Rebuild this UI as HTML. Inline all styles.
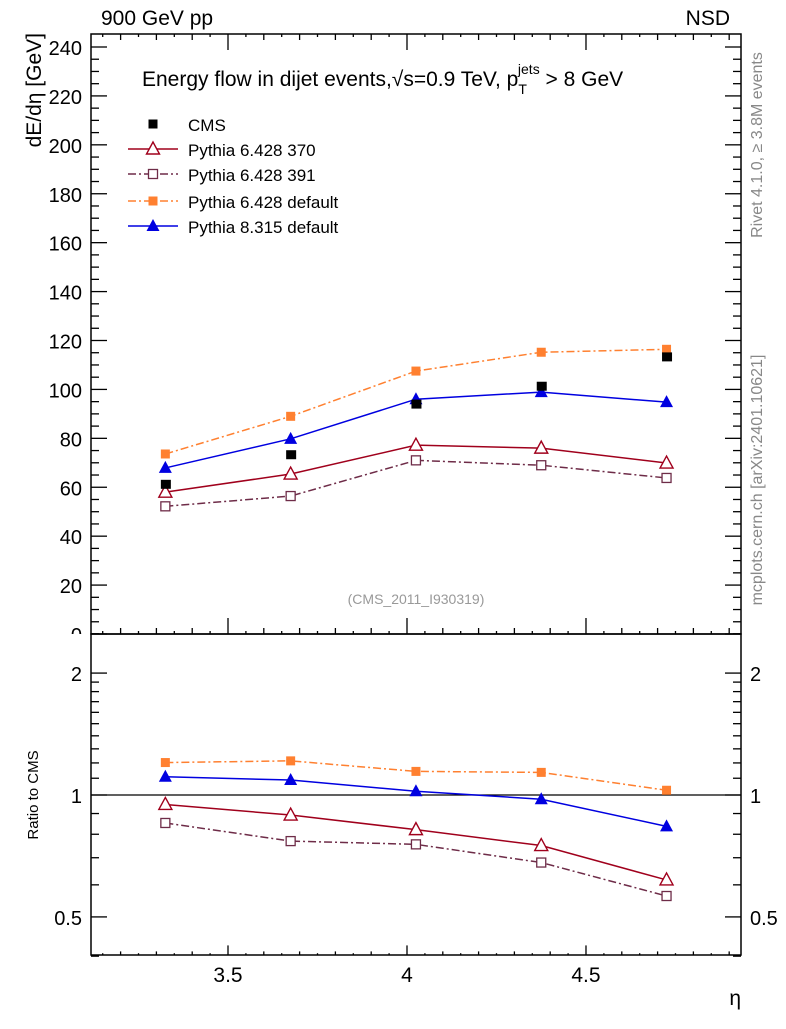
<!DOCTYPE html>
<html><head><meta charset="utf-8"><style>
body{margin:0;background:#fff;}
svg text{font-family:"Liberation Sans",sans-serif;}
</style></head><body>
<svg id="c" width="786" height="1024" xmlns="http://www.w3.org/2000/svg">
<text x="101" y="25" font-size="21">900 GeV pp</text>
<text x="730" y="25" font-size="21" text-anchor="end">NSD</text>
<text x="142" y="86" font-size="21">Energy flow in dijet events,√s=0.9 TeV, p<tspan font-size="14" dy="8">T</tspan><tspan font-size="14" dx="-9" dy="-20">jets</tspan><tspan dy="12"> &gt; 8 GeV</tspan></text>
<text transform="translate(41,33) rotate(-90)" font-size="21" text-anchor="end">dE/dη [GeV]</text>
<text transform="translate(38,795) rotate(-90)" font-size="15" text-anchor="middle">Ratio to CMS</text>
<text x="741" y="1005" font-size="21" text-anchor="end">η</text>
<text transform="translate(762,145) rotate(-90)" font-size="16" fill="#888" text-anchor="middle">Rivet 4.1.0, ≥ 3.8M events</text>
<text transform="translate(762,480) rotate(-90)" font-size="16" fill="#888" text-anchor="middle">mcplots.cern.ch [arXiv:2401.10621]</text>
<text x="416" y="604" font-size="14" fill="#999" text-anchor="middle">(CMS_2011_I930319)</text>
<defs><clipPath id="cl"><rect x="0" y="0" width="786" height="634"/></clipPath></defs>
<g id="g"></g>
</svg>
<script>
const etaVals=[3.325,3.675,4.025,4.375,4.725];
const cms=[61.2,73.3,94,101.3,113.3];
const p370=[58,65.4,77.2,76,69.9];
const p391=[52.2,56.4,71,69,63.8];
const p6def=[73.6,89,107.5,115.2,116.4];
const p8def=[67.9,79.8,96,98.9,94.8];
const yTicks=[0,20,40,60,80,100,120,140,160,180,200,220,240];
const xTicks=[3.5,4,4.5];
const rTicks=[0.5,1,2];
const NS="http://www.w3.org/2000/svg";
const g=document.getElementById('g');
const L=91,R=741,T=34,M=634,B=955;
const X0=3.1173,X1=4.933;
const sx=v=>L+(v-X0)/(X1-X0)*(R-L);
const sy=v=>M-v*(M-47)/240;
const sr=v=>795-Math.log10(v)*405;
function el(t,a,p){const e=document.createElementNS(NS,t);for(const k in a)e.setAttribute(k,a[k]);(p||g).appendChild(e);return e;}
let f=el('rect',{x:L,y:T,width:R-L,height:M-T,fill:'none',stroke:'#000','stroke-width':1.5});


f=el('rect',{x:L,y:M,width:R-L,height:B-M,fill:'none',stroke:'#000','stroke-width':1.5});


for(let i=0;i*0.05+3.15<=4.93;i++){const v=3.15+i*0.05;const x=sx(v);const maj=Math.abs(v*2-Math.round(v*2))<1e-6;const mid=Math.abs(v*10-Math.round(v*10))<1e-6;
 for(const [y0,d,k] of [[T,1,1],[M,-1,1],[B,-1,0.6]]){const h=(maj?16:(mid?6:3))*k; el('line',{x1:x,x2:x,y1:y0,y2:y0+d*h,stroke:'#000','stroke-width':1.3});}}
xTicks.forEach(v=>{const t=el('text',{x:sx(v),y:982,'font-size':21,'text-anchor':'middle'});t.textContent=v;

});
for(let v=0;v<=240;v+=5){const y=sy(v);const h=v%20==0?16:8;el('line',{x1:L,x2:L+h,y1:y,y2:y,stroke:'#000','stroke-width':1.3});el('line',{x1:R,x2:R-h,y1:y,y2:y,stroke:'#000','stroke-width':1.3});}
yTicks.forEach(v=>{const t=el('text',{x:82,y:sy(v)+8,'font-size':20,'text-anchor':'end','clip-path':'url(#cl)'});t.textContent=v;

});
for(let v=0.4;v<=2.51;v+=(v<1.99?0.1:0.5)){const y=sr(v);const maj=rTicks.some(r=>Math.abs(r-v)<1e-6);const h=maj?16:8;el('line',{x1:L,x2:L+h,y1:y,y2:y,stroke:'#000','stroke-width':1.3});el('line',{x1:R,x2:R-h,y1:y,y2:y,stroke:'#000','stroke-width':1.3});}
rTicks.forEach(v=>{for(const [x,a] of [[82,'end'],[750,'start']]){const t=el('text',{x:x,y:sr(v)+8,'font-size':20,'text-anchor':a});t.textContent=v;

}});
el('line',{x1:L,x2:R,y1:sr(1),y2:sr(1),stroke:'#000','stroke-width':1.3});
function marker(type,x,y,col,p){
 if(type=='sq')return el('rect',{x:x-4.5,y:y-4.5,width:9,height:9,fill:col},p);
 if(type=='osq')return el('rect',{x:x-4.5,y:y-4.5,width:9,height:9,fill:'#fff',stroke:col,'stroke-width':1.3},p);
 if(type=='tri')return el('polygon',{points:`${x},${y-7} ${x-6.5},${y+5} ${x+6.5},${y+5}`,fill:col},p);
 return el('polygon',{points:`${x},${y-7} ${x-6.5},${y+5} ${x+6.5},${y+5}`,fill:'#fff',stroke:col,'stroke-width':1.4},p);}
const series=[
 {n:'pythia-6428-370',d:p370,c:'#a0001c',dash:'',m:'otri',lab:'Pythia 6.428 370'},
 {n:'pythia-6428-391',d:p391,c:'#6e2c48',dash:'8,3,2,3',m:'osq',lab:'Pythia 6.428 391'},
 {n:'pythia-6428-default',d:p6def,c:'#ff8030',dash:'8,3,2,3',m:'sq',lab:'Pythia 6.428 default'},
 {n:'pythia-8315-default',d:p8def,c:'#0000e0',dash:'',m:'tri',lab:'Pythia 8.315 default'}];
series.forEach(s=>{
 const gp=el('g',{});
 
 
 el('polyline',{points:etaVals.map((e,i)=>sx(e)+','+sy(s.d[i])).join(' '),fill:'none',stroke:s.c,'stroke-width':1.5,'stroke-dasharray':s.dash},gp);
 etaVals.forEach((e,i)=>marker(s.m,sx(e),sy(s.d[i]),s.c,gp));
 const gr=el('g',{});
 
 
 el('polyline',{points:etaVals.map((e,i)=>sx(e)+','+sr(s.d[i]/cms[i])).join(' '),fill:'none',stroke:s.c,'stroke-width':1.5,'stroke-dasharray':s.dash},gr);
 etaVals.forEach((e,i)=>marker(s.m,sx(e),sr(s.d[i]/cms[i]),s.c,gr));
});
const gc=el('g',{});


etaVals.forEach((e,i)=>marker('sq',sx(e),sy(cms[i]),'#000',gc).setAttribute('width',10));
const lg=el('g',{});


const ly=[124,149,174,201,226];
marker('sq',153,ly[0],'#000',lg);
let t=el('text',{x:188,y:ly[0]+7,'font-size':17},lg);t.textContent='CMS';
series.forEach((s,i)=>{const y=ly[i+1];
 el('line',{x1:128,x2:178,y1:y,y2:y,stroke:s.c,'stroke-width':1.5,'stroke-dasharray':s.dash},lg);
 marker(s.m,153,y,s.c,lg);
 const tt=el('text',{x:188,y:y+7,'font-size':17},lg);tt.textContent=s.lab;
 
 });
</script>
</body></html>
